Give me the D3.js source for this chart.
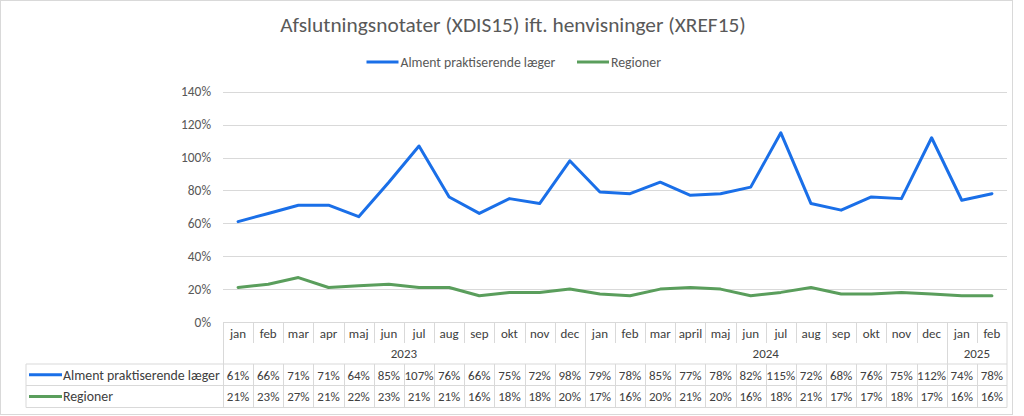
<!DOCTYPE html>
<html><head><meta charset="utf-8">
<script src="https://cdn.jsdelivr.net/npm/d3@7"></script>
<style>html,body{margin:0;padding:0;background:#fff;} svg{display:block;font-family:Carlito, Lato, sans-serif;}</style>
</head><body>
<svg id="c" width="1024" height="416"></svg>
<script>
const title = "Afslutningsnotater (XDIS15) ift. henvisninger (XREF15)";
const months = ["jan","feb","mar","apr","maj","jun","jul","aug","sep","okt","nov","dec","jan","feb","mar","april","maj","jun","jul","aug","sep","okt","nov","dec","jan","feb"];
const years = [{label:"2023", count:12},{label:"2024", count:12},{label:"2025", count:2}];
const seriesNames = ["Alment praktiserende læger","Regioner"];
const almen = [61,66,71,71,64,85,107,76,66,75,72,98,79,78,85,77,78,82,115,72,68,76,75,112,74,78];
const regioner = [21,23,27,21,22,23,21,21,16,18,18,20,17,16,20,21,20,16,18,21,17,17,18,17,16,16];
const yTicks = [0,20,40,60,80,100,120,140];
const colors = ["#1a6fe8","#5a9e5c"];

const svg = d3.select("#c");
const grid = "#d9d9d9", txt = "#404040", axTxt = "#595959";
const L = 223, R = 1007, Y0 = 322, Ytop = 91.7;

function fit(sel, w){
  const l = sel.node().getComputedTextLength();
  const fs = parseFloat(sel.style("font-size"));
  sel.style("font-size", (fs*w/l)+"px");
  return fs*w/l;
}
function fitSize(str, w, base){
  const t = svg.append("text").style("font-size", base+"px").text(str);
  const s = fit(t, w); t.remove(); return s;
}

// outer border
svg.append("rect").attr("x",0.5).attr("y",0.5).attr("width",1012).attr("height",414)
  .attr("fill","#fff").attr("stroke",grid);

const x = d3.scaleBand().domain(d3.range(months.length)).range([L,R]).padding(0);
const y = d3.scaleLinear().domain([0,140]).range([Y0,Ytop]);

// title
const tt = svg.append("text").attr("x",513).attr("y",32).attr("text-anchor","middle")
  .attr("fill",axTxt).style("font-size","20px").text(title);
fit(tt,466);

// legend
const legX = [366.5, 577];
const legW = [155, 50];
seriesNames.forEach((n,i)=>{
  svg.append("line").attr("x1",legX[i]).attr("x2",legX[i]+32).attr("y1",62).attr("y2",62)
    .attr("stroke",colors[i]).attr("stroke-width",3);
  const t = svg.append("text").attr("x",legX[i]+34).attr("y",66.5).attr("fill",axTxt)
    .style("font-size","13px").text(n);
  fit(t, legW[i]);
});

// gridlines
svg.append("g").selectAll("line").data(yTicks.filter(d=>d>0)).join("line")
  .attr("x1",L).attr("x2",R).attr("y1",d=>Math.round(y(d))+0.5).attr("y2",d=>Math.round(y(d))+0.5)
  .attr("stroke",grid).attr("stroke-width",1);

// y axis labels
const tickFs = fitSize("140%", 30, 12);
const yAxis = d3.axisLeft(y).tickValues(yTicks).tickFormat(d=>d+"%").tickSize(0).tickPadding(0);
const ya = svg.append("g").attr("transform",`translate(211,0)`).call(yAxis);
ya.select(".domain").remove();
ya.selectAll("text").attr("fill",axTxt).style("font-size",tickFs+"px").style("font-family","Carlito, Lato, sans-serif");

// lines
const lineGen = d3.line().x((d,i)=>x(i)+x.bandwidth()/2).y(d=>y(d));
[almen, regioner].forEach((s,i)=>{
  svg.append("path").datum(s).attr("d",lineGen).attr("fill","none")
    .attr("stroke",colors[i]).attr("stroke-width",3).attr("stroke-linejoin","round").attr("stroke-linecap","round");
});

// data table
const cellFs = fitSize("107%", 29, 12);
const rowTop = [364, 385.5], rowBot = [385.5, 407.5];
const tb = svg.append("g");
const hl = (x1,x2,yy)=>tb.append("line").attr("x1",x1).attr("x2",x2).attr("y1",yy).attr("y2",yy).attr("stroke",grid);
const vl = (xx,y1,y2)=>tb.append("line").attr("x1",xx).attr("x2",xx).attr("y1",y1).attr("y2",y2).attr("stroke",grid);
hl(L,R,Y0+0.5);
hl(26,R,364); hl(26,R,385.5); hl(26,R,407.5);
vl(26,364,407.5);
// column separators
d3.range(1,months.length).forEach(i=>{
  const xx = Math.round(x(i))+0.5;
  vl(xx,Y0,343); vl(xx,364,407.5);
});
// year boundaries
let acc = 0;
const yb = [0];
years.forEach(yr=>{acc+=yr.count; yb.push(acc);});
yb.forEach(k=>{
  const xx = k<months.length ? Math.round(x(k))+0.5 : R;
  vl(xx,Y0,407.5);
});
// month labels
tb.selectAll("text.m").data(months).join("text").attr("class","m")
  .attr("x",(d,i)=>x(i)+x.bandwidth()/2).attr("y",337.5).attr("text-anchor","middle")
  .attr("fill",txt).style("font-size",cellFs+"px").text(d=>d);
// year labels
tb.selectAll("text.y").data(years).join("text").attr("class","y")
  .attr("x",(d,i)=>{const a=x(yb[i]); const b= yb[i+1]<months.length? x(yb[i+1]) : R; return (a+b)/2;})
  .attr("y",357.5).attr("text-anchor","middle").attr("fill",txt).style("font-size",cellFs+"px").text(d=>d.label);
// series rows
const baseY = [379.5, 401];
const labW = [157, 50];
[almen, regioner].forEach((s,r)=>{
  tb.append("line").attr("x1",29).attr("x2",62).attr("y1",(rowTop[r]+rowBot[r])/2).attr("y2",(rowTop[r]+rowBot[r])/2)
    .attr("stroke",colors[r]).attr("stroke-width",3);
  const t = tb.append("text").attr("x",63).attr("y",baseY[r]).attr("fill",txt).style("font-size","13px").text(seriesNames[r]);
  fit(t, labW[r]);
  tb.selectAll("text.v"+r).data(s).join("text").attr("class","v"+r)
    .attr("x",(d,i)=>x(i)+x.bandwidth()/2).attr("y",baseY[r]).attr("text-anchor","middle")
    .attr("fill",txt).style("font-size",cellFs+"px").text(d=>d+"%");
});
</script>
</body></html>
